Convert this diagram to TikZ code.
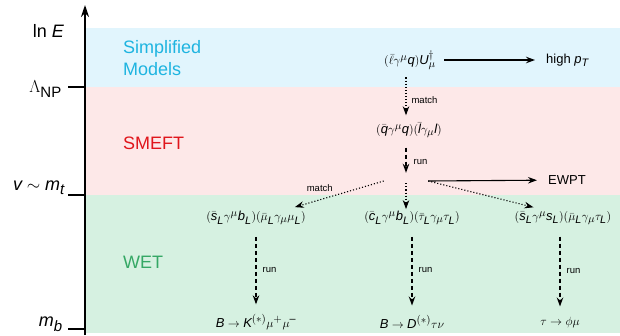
\documentclass[tikz,border=0pt]{standalone}
\usepackage{amsmath}
\usepackage{fontspec}
\setmainfont{Liberation Sans}
\usepackage[italic]{mathastext}
\usetikzlibrary{arrows.meta,positioning}
\definecolor{smband}{HTML}{E1F5FD}
\definecolor{smeftband}{HTML}{FDE8E8}
\definecolor{wetband}{HTML}{D6F1E1}
\definecolor{smtext}{HTML}{1EB4E0}
\definecolor{smefttext}{HTML}{E0151B}
\definecolor{wettext}{HTML}{35A865}

\begin{document}
\begin{tikzpicture}[
x=1pt,y=-1pt,
axislbl/.style={font=\fontsize{18}{20}\selectfont,anchor=east,inner sep=0pt},
bandlbl/.style={font=\fontsize{18}{22}\selectfont,anchor=west,align=left,inner sep=0pt},
op/.style={font=\fontsize{13}{15}\selectfont,inner sep=2pt},
lbl/.style={font=\fontsize{9.5}{11}\selectfont,inner sep=1pt},
arr/.style={-{Stealth[length=9pt,width=6.5pt]},line width=1.1pt},
matcharr/.style={arr,dotted},
runarr/.style={arr,dash pattern=on 4pt off 3pt,line width=1.3pt}]
\useasboundingbox (0,0) rectangle (620,335);
% energy bands
\fill[smband] (85,28) rectangle (620,87);
\fill[smeftband] (85,87) rectangle (620,195);
\fill[wetband] (85,195) rectangle (620,333);
% scale axis
\draw[-{Stealth[length=12pt,width=8pt]},line width=1.4pt] (85,335) -- (85,5);
\draw[line width=1.4pt] (68,87) -- (85,87);
\draw[line width=1.4pt] (68,195) -- (85,195);
\draw[line width=1.4pt] (68,329) -- (85,329);
\node[axislbl] (lnE) at (64,31) {ln $E$};
\node[axislbl] (lnp) at (62,89) {$\Lambda_{\text{NP}}$};
\node[axislbl] (vev) at (65,188) {$v\sim m_t$};
\node[axislbl] (mb) at (63,324) {$m_b$};
\node[bandlbl,text=smtext] (simp) at (123,58) {Simplified\\Models};
\node[bandlbl,text=smefttext] (smeftlbl) at (123,143) {SMEFT};
\node[bandlbl,text=wettext] (wetlbl) at (123,262) {WET};
% operators and observables
\node[op] (sm) at (410,60) {$(\bar\ell\gamma^\mu q)U_\mu^\dagger$};
\node[op,anchor=west] (highpt) at (544,60) {high $p_T$};
\node[op] (smeft) at (409,130) {$(\bar q\gamma^\mu q)(\bar l\gamma_\mu l)$};
\node[inner sep=0pt,minimum width=44pt,minimum height=4pt] (split) at (406,181) {};
\node[op,anchor=west] (ewpt) at (546,180) {EWPT};
\node[op] (wet1) at (256,218) {$(\bar s_L\gamma^\mu b_L)(\bar\mu_L\gamma_\mu\mu_L)$};
\node[op] (wet2) at (412,218) {$(\bar c_L\gamma^\mu b_L)(\bar\tau_L\gamma_\mu\tau_L)$};
\node[op] (wet3) at (563,218) {$(\bar s_L\gamma^\mu s_L)(\bar\mu_L\gamma_\mu\tau_L)$};
\node[op] (obs1) at (256,322) {$B\to K^{(*)}\mu^+\mu^-$};
\node[op] (obs2) at (412,322) {$B\to D^{(*)}\tau\nu$};
\node[op] (obs3) at (560,322) {$\tau\to\phi\mu$};
% connectors
\draw[arr,shorten <=6pt,shorten >=9pt] (sm) -- (highpt);
\draw[matcharr,shorten <=6pt,shorten >=5pt] (sm.south -| split) -- (smeft.north -| split)
  node[lbl,midway,right=4pt,yshift=-4pt] (m1) {match};
\draw[runarr,shorten <=8pt,shorten >=6pt] (smeft.south -| split) -- (split.north)
  node[lbl,midway,right=6pt,yshift=-3pt] (r1) {run};
\draw[arr,shorten >=9pt] (split.east) -- (ewpt);
\draw[matcharr] (split.west) -- ([xshift=-13pt,yshift=2pt]wet1.north east)
  node[lbl,pos=0.72,above=7pt] (m2) {match};
\draw[matcharr] (split.south) -- (split.south |- wet2.north);
\draw[matcharr] (split.east) -- ([xshift=21pt,yshift=2pt]wet3.north west);
\draw[runarr,shorten <=10pt,shorten >=8pt] (wet1) -- (obs1) node[lbl,midway,right=5pt] (r2) {run};
\draw[runarr,shorten <=10pt,shorten >=8pt] (wet2) -- (obs2) node[lbl,midway,right=5pt] (r3) {run};
\draw[runarr,shorten <=10pt,shorten >=8pt] (wet3.south -| obs3) -- (obs3) node[lbl,midway,right=5pt] (r4) {run};
\end{tikzpicture}
\end{document}
